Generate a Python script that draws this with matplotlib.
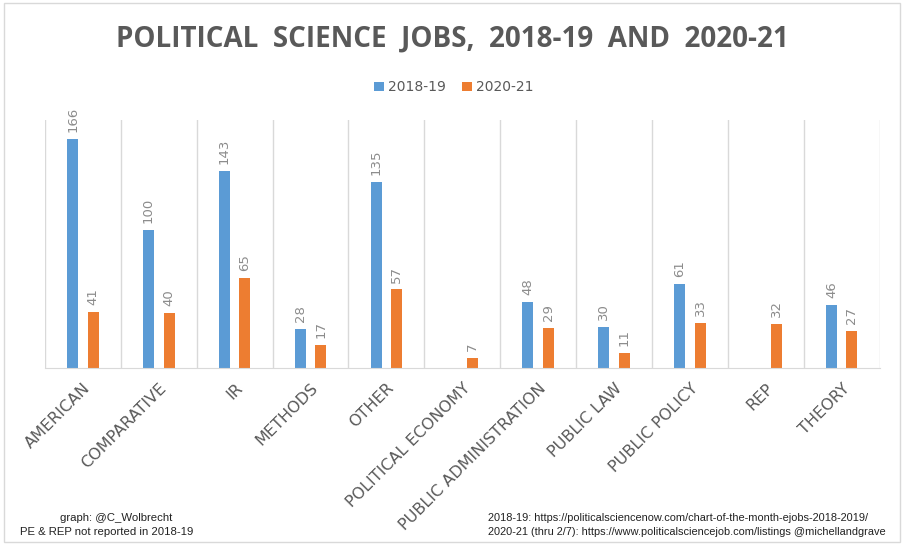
import numpy as np
import matplotlib.pyplot as plt
from matplotlib.patches import Rectangle

categories = ["AMERICAN", "COMPARATIVE", "IR", "METHODS", "OTHER",
              "POLITICAL ECONOMY", "PUBLIC ADMINISTRATION", "PUBLIC LAW",
              "PUBLIC POLICY", "REP", "THEORY"]
jobs_2018 = [166, 100, 143, 28, 135, np.nan, 48, 30, 61, np.nan, 46]
jobs_2020 = [41, 40, 65, 17, 57, 7, 29, 11, 33, 32, 27]

blue = "#5B9BD5"
orange = "#ED7D31"
grey = "#595959"

fig = plt.figure(figsize=(9.05, 5.45), dpi=100)
fig.patches.append(Rectangle((0.004, 0.006), 0.99, 0.988, transform=fig.transFigure,
                             fill=False, edgecolor="#d9d9d9", linewidth=1))
ax = fig.add_axes([0.0497, 0.3248, 0.9223, 0.455])

x = np.arange(len(categories))
w = 0.145
b1 = ax.bar(x - 0.135, jobs_2018, w, color=blue, label="2018-19")
b2 = ax.bar(x + 0.135, jobs_2020, w, color=orange, label="2020-21")

for bars, vals in [(b1, jobs_2018), (b2, jobs_2020)]:
    for r, v in zip(bars, vals):
        if np.isnan(v):
            continue
        ax.annotate(str(int(v)), (r.get_x() + r.get_width() / 2, v),
                    xytext=(0, 5), textcoords="offset points", rotation=90,
                    ha="center", va="bottom", color="#8c8c8c", fontsize=9.5)

ax.set_xlim(-0.5, len(categories) - 0.5)
ax.set_ylim(0, 180)
for b in np.arange(-0.5, len(categories), 1):
    ax.axvline(b, color="#d9d9d9", linewidth=1, zorder=0)
for s in ["top", "left", "right"]:
    ax.spines[s].set_visible(False)
ax.spines["bottom"].set_color("#d9d9d9")
ax.set_yticks([])
ax.set_xticks(x)
ax.set_xticklabels(categories, rotation=45, ha="right", va="top",
                   rotation_mode="anchor", color=grey, fontsize=11.5,
                   family="DejaVu Sans")
ax.tick_params(axis="x", length=0, pad=9)

fig.text(0.5, 0.928, "POLITICAL  SCIENCE  JOBS,  2018-19  AND  2020-21", ha="center",
         va="center", fontsize=20, fontweight="bold", color=grey, family="Open Sans")
ax.legend(loc="upper center", bbox_to_anchor=(0.49, 1.21), ncol=2, frameon=False,
          fontsize=10, handlelength=0.7, handleheight=0.7, columnspacing=1.2,
          handletextpad=0.3, labelcolor=grey)

fig.text(0.128, 0.044, "graph: @C_Wolbrecht", ha="center", fontsize=8.2,
         family="Liberation Sans", color="#222222")
fig.text(0.118, 0.018, "PE & REP not reported in 2018-19", ha="center", fontsize=8.2,
         family="Liberation Sans", color="#222222")
fig.text(0.539, 0.044, "2018-19: https://politicalsciencenow.com/chart-of-the-month-ejobs-2018-2019/",
         ha="left", fontsize=7.9, family="Liberation Sans", color="#222222")
fig.text(0.539, 0.018, "2020-21 (thru 2/7): https://www.politicalsciencejob.com/listings @michellandgrave",
         ha="left", fontsize=7.9, family="Liberation Sans", color="#222222")

fig.savefig("out.png", dpi=100)
